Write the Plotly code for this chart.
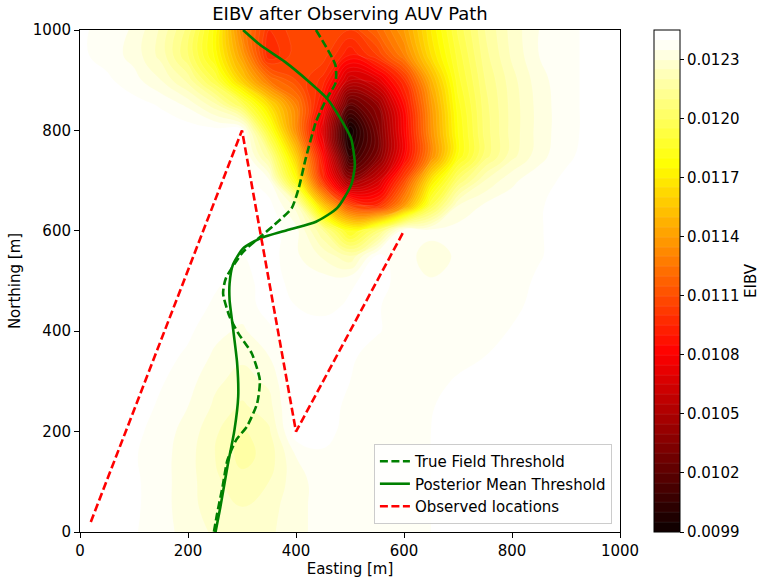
import numpy as np
import plotly.graph_objects as go

# Grid coordinates (m)
easting = list(range(0, 1001, 50))
northing = list(range(0, 1001, 50))

# EIBV on the 50 m grid, in units of 1e-5; first row is Northing = 0 m
eibv_e5 = [
    [1243, 1243, 1240.5, 1237, 1233, 1229, 1227, 1229, 1233, 1237.5, 1237.5, 1237.5, 1237.5, 1240, 1243, 1243, 1243, 1243, 1243, 1243, 1243],
    [1243, 1243, 1241, 1237, 1232, 1227, 1225, 1228, 1233, 1237.5, 1237.5, 1237.5, 1237.5, 1240, 1243, 1243, 1243, 1243, 1243, 1243, 1243],
    [1243, 1243, 1241, 1237, 1232, 1226, 1222, 1225, 1233, 1237.5, 1237.5, 1237.5, 1237.5, 1240, 1243, 1243, 1243, 1243, 1243, 1243, 1243],
    [1243, 1243, 1240.5, 1237, 1232, 1225, 1218, 1222, 1235, 1239, 1237.5, 1237.5, 1237.5, 1240, 1243, 1243, 1243, 1243, 1243, 1243, 1243],
    [1243, 1243, 1241.5, 1237.5, 1233, 1226, 1219, 1224, 1243, 1242, 1238, 1237.5, 1237.5, 1240, 1243, 1243, 1243, 1243, 1243, 1243, 1243],
    [1243, 1243, 1243, 1239, 1235, 1229, 1224, 1228, 1243, 1243, 1238.5, 1237.5, 1237.5, 1239.5, 1243, 1243, 1243, 1243, 1243, 1243, 1243],
    [1243, 1243, 1243, 1240.5, 1237, 1231, 1228, 1231, 1243, 1243, 1240, 1237.5, 1237.5, 1237.5, 1241, 1243, 1243, 1243, 1243, 1243, 1243],
    [1243, 1243, 1243, 1242, 1239, 1234, 1231, 1235, 1243, 1243, 1241, 1237.5, 1237.5, 1237.5, 1237.5, 1240, 1243, 1243, 1243, 1243, 1243],
    [1243, 1243, 1243, 1243, 1241, 1236.5, 1234, 1239, 1243, 1243, 1243, 1240.5, 1237.5, 1237.5, 1237.5, 1237.5, 1240.5, 1243, 1243, 1243, 1243],
    [1243, 1243, 1243, 1243, 1243, 1239, 1237.5, 1242, 1240, 1238, 1241, 1240.5, 1237.5, 1237.5, 1237.5, 1237.5, 1238.5, 1242, 1243, 1243, 1243],
    [1243, 1243, 1243, 1243, 1243, 1241, 1238, 1242.5, 1238, 1237.5, 1239, 1242.5, 1237.5, 1235.5, 1237.5, 1237.5, 1237.5, 1241, 1243, 1243, 1243],
    [1243, 1243, 1243, 1243, 1243, 1242, 1240, 1242.5, 1236, 1229, 1220, 1241, 1237.5, 1232, 1236, 1237.5, 1237.5, 1239.5, 1242.5, 1243, 1243],
    [1243, 1243, 1243, 1243, 1243, 1243, 1243, 1242.5, 1237, 1215, 1182, 1205, 1240, 1237, 1237.5, 1237.5, 1237.5, 1239.5, 1242.5, 1243, 1243],
    [1243, 1243, 1243, 1243, 1243, 1243, 1243, 1242, 1228, 1158, 1110, 1097, 1138, 1195, 1230, 1236, 1237.5, 1239.5, 1242, 1243, 1243],
    [1243, 1243, 1243, 1243, 1243, 1243, 1243, 1236, 1180, 1100, 1042, 1062, 1108, 1168, 1205, 1225, 1234, 1238, 1241, 1243, 1243],
    [1243, 1243, 1243, 1243, 1243, 1243, 1242.5, 1215, 1158, 1085, 1003, 1032, 1080, 1132, 1180, 1207, 1223, 1233, 1239, 1242, 1243],
    [1243, 1243, 1243, 1243, 1243, 1242, 1241, 1188, 1134, 1070, 990, 1030, 1080, 1135, 1180, 1207, 1222, 1232, 1238.5, 1241.5, 1243],
    [1243, 1243, 1242, 1239.5, 1234, 1222, 1200, 1165, 1130, 1085, 1020, 1040, 1085, 1138, 1183, 1208, 1222, 1232, 1238.5, 1241.5, 1243],
    [1243, 1241, 1237, 1230, 1218, 1195, 1158, 1125, 1110, 1098, 1060, 1070, 1100, 1148, 1188, 1210, 1223, 1233, 1238.5, 1241.5, 1243],
    [1241, 1238, 1233, 1223, 1205, 1178, 1140, 1095, 1108, 1108, 1090, 1105, 1130, 1165, 1192, 1213, 1226, 1235, 1238.5, 1241.5, 1243],
    [1240.5, 1239, 1234, 1224, 1208, 1178, 1130, 1100, 1108, 1110, 1105, 1120, 1140, 1170, 1196, 1215, 1227, 1235, 1238.5, 1241.5, 1243],
]

# Threshold contour of the true field (dashed)
true_x = [437, 473, 473, 457, 437, 418, 405, 392, 360, 334, 302, 270, 265, 277, 293, 318, 333, 328, 309, 289, 273, 264, 254, 248]
true_y = [1000, 930, 894, 864, 817, 744, 685, 645, 612, 588, 558, 505, 475, 429, 396, 356, 303, 256, 210, 183, 143, 90, 37, 0]

# Threshold contour of the posterior mean (solid)
post_x = [302, 334, 379, 424, 457, 482, 502, 509, 502, 476, 437, 386, 334, 302, 283, 277, 277, 283, 291, 293, 286, 273, 260, 251]
post_y = [1000, 970, 937, 897, 864, 824, 784, 731, 691, 645, 618, 602, 585, 565, 532, 495, 462, 409, 336, 270, 203, 130, 50, 0]

# AUV path vertices
path_x = [20, 300, 400, 600]
path_y = [20, 800, 200, 600]

cbar_ticks = [0.0099, 0.0102, 0.0105, 0.0108, 0.0111, 0.0114, 0.0117, 0.0120, 0.0123]

z = np.array(eibv_e5) * 1e-5

hot = [
    [0.0, "rgb(11,0,0)"],
    [0.365079, "rgb(255,0,0)"],
    [0.746032, "rgb(255,255,0)"],
    [1.0, "rgb(255,255,255)"],
]

FONT = "DejaVu Sans"
fs = 15

fig = go.Figure()
fig.add_trace(go.Contour(
    x=easting, y=northing, z=z,
    colorscale=hot,
    zmin=0.0099, zmax=0.01245,
    contours=dict(start=0.0099, end=0.01245, size=0.00005,
                  coloring="fill", showlines=True),
    line=dict(smoothing=1.3, width=0.5, color="rgba(255,255,255,0.16)"),
    hoverinfo="skip",
    showlegend=False,
    colorbar=dict(
        title=dict(text="EIBV", side="right", font=dict(family=FONT, size=fs, color="black")),
        thickness=26, thicknessmode="pixels",
        len=1, lenmode="fraction",
        x=1.063, xanchor="left", xpad=0,
        y=0.5, yanchor="middle", ypad=0,
        outlinewidth=1, outlinecolor="black",
        ticks="outside", ticklen=4, tickwidth=1, tickcolor="black",
        tickvals=cbar_ticks,
        ticktext=[f"{v:.4f}" for v in cbar_ticks],
        tickfont=dict(family=FONT, size=fs, color="black"),
    ),
))

fig.add_trace(go.Scatter(
    x=true_x, y=true_y, mode="lines", name="True Field Threshold",
    line=dict(color="green", width=2.6, dash="8px,3.5px", shape="spline", smoothing=0.6),
))
fig.add_trace(go.Scatter(
    x=post_x, y=post_y, mode="lines", name="Posterior Mean Threshold",
    line=dict(color="green", width=2.6, shape="spline", smoothing=0.6),
))
fig.add_trace(go.Scatter(
    x=path_x, y=path_y, mode="lines", name="Observed locations",
    line=dict(color="red", width=2.6, dash="8px,3.5px"),
))

axis_common = dict(
    range=[0, 1000], showgrid=False, zeroline=False,
    showline=True, mirror=True, linecolor="black", linewidth=1,
    ticks="outside", ticklen=5, tickwidth=1, tickcolor="black",
    tickvals=[0, 200, 400, 600, 800, 1000],
    tickfont=dict(family=FONT, size=fs, color="black"),
)

fig.update_layout(
    width=762, height=585,
    margin=dict(l=80, r=142, t=30, b=53, autoexpand=False),
    paper_bgcolor="white", plot_bgcolor="white",
    font=dict(family=FONT, size=fs, color="black"),
    title=dict(text="EIBV after Observing AUV Path", x=0.5, xref="paper",
               y=1 - 14 / 585, yref="container", yanchor="middle", xanchor="center",
               font=dict(family=FONT, size=18, color="black")),
    xaxis=dict(axis_common, title=dict(text="Easting [m]", standoff=4,
                                       font=dict(family=FONT, size=fs))),
    yaxis=dict(axis_common, title=dict(text="Northing [m]", standoff=8,
                                       font=dict(family=FONT, size=fs))),
    legend=dict(x=0.985, y=0.016, xanchor="right", yanchor="bottom",
                itemwidth=30,
                bgcolor="rgba(255,255,255,0.8)", bordercolor="#cccccc", borderwidth=1,
                font=dict(family=FONT, size=fs, color="black")),
)

fig.write_html("out.html")
